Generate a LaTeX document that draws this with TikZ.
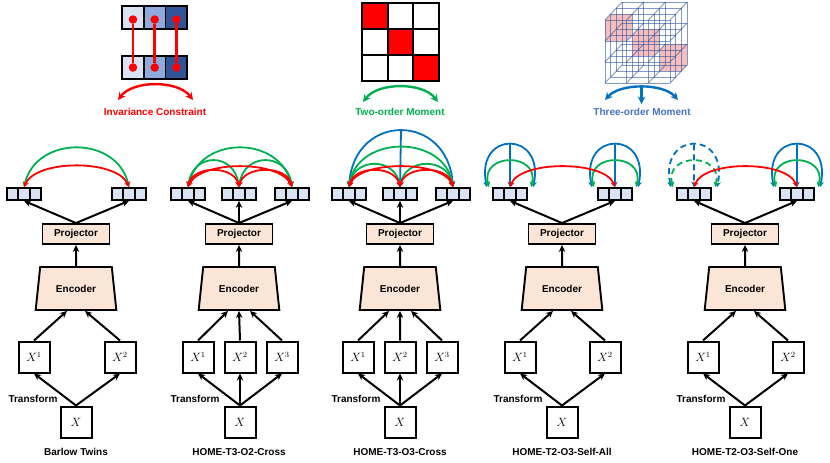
\documentclass[tikz,border=0pt]{standalone}
\usepackage{fontspec}
\setmainfont{Liberation Sans}
\usepackage{xcolor}
\usepackage{tikz}
\usetikzlibrary{positioning,arrows.meta,shapes.geometric}

\definecolor{peach}{RGB}{251,229,214}
\definecolor{cellblue}{RGB}{218,227,243}
\definecolor{midblue}{RGB}{143,170,220}
\definecolor{darkblue}{RGB}{47,85,151}
\definecolor{invred}{RGB}{255,0,0}
\definecolor{momgreen}{RGB}{0,176,80}
\definecolor{momblue}{RGB}{0,112,192}
\definecolor{textblue}{RGB}{68,114,196}
\definecolor{cubepink}{RGB}{235,110,110}

\begin{document}
\begin{tikzpicture}[
  x=1pt, y=-1pt,
  font=\fontsize{10}{12}\selectfont\bfseries,
  vec/.style={draw, line width=1.7pt, fill=cellblue, minimum width=34.5pt, minimum height=12pt, inner sep=0pt,
    path picture={\draw[line width=1.7pt]
      ([xshift=-5.75pt]path picture bounding box.north) -- ([xshift=-5.75pt]path picture bounding box.south)
      ([xshift=5.75pt]path picture bounding box.north) -- ([xshift=5.75pt]path picture bounding box.south);}},
  xbox/.style={draw, line width=2pt, minimum size=31pt, inner sep=0pt, font=\large},
  proj/.style={draw, line width=1.9pt, fill=peach, minimum width=67pt, minimum height=20pt, inner sep=0pt},
  enc/.style={trapezium, trapezium stretches=true, trapezium angle=71, draw, line width=1.9pt,
    fill=peach, minimum width=81pt, minimum height=43pt, inner sep=0pt},
  flow/.style={line width=2pt, -{Stealth[length=7pt,width=6.5pt]}},
  bothends/.style={{Stealth[length=5.5pt,width=5.5pt]}-{Stealth[length=5.5pt,width=5.5pt]}},
  inv/.style={invred, line width=1.8pt, bothends},
  two/.style={momgreen, line width=1.8pt, bothends},
  three/.style={momblue, line width=1.8pt, bothends},
  down/.style={momblue, line width=1.8pt, -{Stealth[length=5.5pt,width=5.5pt]}},
  legarc/.style={line width=2.4pt, {Stealth[length=7.5pt,width=7.5pt]}-{Stealth[length=7.5pt,width=7.5pt]}},
  legcell/.style={draw, line width=1.8pt, minimum width=21.7pt, minimum height=23pt, inner sep=0pt},
  dot/.style={circle, fill=invred, minimum size=8.5pt, inner sep=0pt},
  loopdash/.style={dash pattern=on 6pt off 4pt}
]
\useasboundingbox (0,0) rectangle (830,463);

% Legend: invariance constraint
\node[legcell, fill=cellblue] (t1) at (133,17.5) {};
\node[legcell, fill=midblue]  (t2) at (154.7,17.5) {};
\node[legcell, fill=darkblue] (t3) at (176.4,17.5) {};
\node[legcell, fill=cellblue] (b1) at (133,67.5) {};
\node[legcell, fill=midblue]  (b2) at (154.7,67.5) {};
\node[legcell, fill=darkblue] (b3) at (176.4,67.5) {};
\foreach \i in {1,2,3} {
  \node[dot] (dt\i) at ([yshift=-2pt]t\i.center) {};
  \node[dot] (db\i) at (b\i) {};
  \draw[invred, line width=2.8pt] (dt\i) -- (db\i);
}
\coordinate (inv1) at (118,100);
\coordinate (inv2) at (193,100);
\draw[legarc, invred] (inv1) .. controls +(15,-20) and +(-15,-20) .. (inv2);
\node[text=invred] (invlbl) at (155,112) {Invariance Constraint};

% Legend: two-order moment
\foreach \i in {0,1,2}
  \fill[invred] ({362+25.67*\i},{3+26*\i}) rectangle ++(25.67,26);
\foreach \k in {0,...,3} {
  \draw[line width=2.2pt, line cap=rect] ({362+25.67*\k},3) -- ({362+25.67*\k},81);
  \draw[line width=2.2pt, line cap=rect] (362,{3+26*\k}) -- (439,{3+26*\k});
}
\coordinate (two1) at (363,102);
\coordinate (two2) at (438,102);
\draw[legarc, momgreen] (two1) .. controls +(15,-20) and +(-15,-20) .. (two2);
\node[text=momgreen] (twolbl) at (400,112) {Two-order Moment};

% Legend: three-order moment (3x3x3 tensor)
\foreach \d in {0,1,2} {
  \fill[cubepink, opacity=.45]
    ({605+21.7*\d+5.7*\d},{20+21*\d-6*\d}) -- ++(21.7,0) -- ++(0,21) -- ++(-21.7,0) -- cycle
    ({605+21.7*\d+5.7*\d},{20+21*\d-6*\d}) -- ++(5.7,-6) -- ++(21.7,0) -- ++(-5.7,6) -- cycle
    ({605+21.7*(\d+1)+5.7*\d},{20+21*\d-6*\d}) -- ++(5.7,-6) -- ++(0,21) -- ++(-5.7,6) -- cycle;
}
\foreach \k in {0,...,3}
  \foreach \i in {0,...,3} {
    \draw[darkblue, opacity=.6, line width=.9pt] ({605+21.7*\i+5.7*\k},{20-6*\k}) -- ++(0,63);
    \draw[darkblue, opacity=.6, line width=.9pt] ({605+5.7*\k},{20+21*\i-6*\k}) -- ++(65.1,0);
    \draw[darkblue, opacity=.6, line width=.9pt] ({605+21.7*\k},{20+21*\i}) -- ++(17.1,-18);
  }
\coordinate (thr1) at (605,100);
\coordinate (thr2) at (678,100);
\draw[legarc, momblue] (thr1) .. controls +(15,-17) and +(-15,-17) .. (thr2) coordinate[pos=0.5] (thrtop);
\coordinate (thr3) at (641.5,104);
\draw[momblue, line width=2.4pt, -{Stealth[length=7.5pt,width=7.5pt]}] (thrtop) -- (thr3);
\node[text=textblue] (thrlbl) at (642,112) {Three-order Moment};

% Barlow Twins
\node[xbox] (x1) at (76,422) {$X$};
\node[xbox] (x1a) at (34,357) {$X^1$};
\node[xbox] (x1b) at (120,357) {$X^2$};
\node (tr1) at (33,399) {Transform};
\node[enc] (enc1) at (76,288.5) {Encoder};
\node[proj] (proj1) at (76,234) {Projector};
\node[vec] (v1a) at (24,194) {};
\node[vec] (v1b) at (129,194) {};
\node (name1) at (76,452) {Barlow Twins};
\draw[flow] (x1.north) -- (x1a.south);
\draw[flow] (x1.north) -- (x1b.south);
\draw[flow] (x1a.north) -- ([xshift=-9pt]enc1.south);
\draw[flow] (x1b.north) -- ([xshift=9pt]enc1.south);
\draw[flow] (enc1.north) -- (proj1.south);
\draw[flow] (proj1.north) -- (v1a.south);
\draw[flow] (proj1.north) -- (v1b.south);
\draw[two] (v1a.north) .. controls +(12,-52) and +(-12,-52) .. (v1b.north);
\draw[inv] (v1a.north) .. controls +(12,-28) and +(-12,-28) .. (v1b.north);

% HOME-T3-O2-Cross
\node[xbox] (x2) at (240,422) {$X$};
\node[xbox] (x2a) at (198,357) {$X^1$};
\node[xbox] (x2b) at (240,357) {$X^2$};
\node[xbox] (x2c) at (282,357) {$X^3$};
\node (tr2) at (195,399) {Transform};
\node[enc] (enc2) at (239,288.5) {Encoder};
\node[proj] (proj2) at (239,234) {Projector};
\node[vec] (v2a) at (188,194) {};
\node[vec] (v2b) at (239,194) {};
\node[vec] (v2c) at (292,194) {};
\node (name2) at (239,452) {HOME-T3-O2-Cross};
\draw[flow] (x2.north) -- (x2a.south);
\draw[flow] (x2.north) -- (x2b.south);
\draw[flow] (x2.north) -- (x2c.south);
\draw[flow] (x2a.north) -- ([xshift=-11pt]enc2.south);
\draw[flow] (x2b.north) -- (enc2.south);
\draw[flow] (x2c.north) -- ([xshift=11pt]enc2.south);
\draw[flow] (enc2.north) -- (proj2.south);
\draw[flow] (proj2.north) -- (v2a.south);
\draw[flow] (proj2.north) -- (v2b.south);
\draw[flow] (proj2.north) -- (v2c.south);
\draw[two] (v2a.north) .. controls +(12,-52) and +(-12,-52) .. (v2c.north);
\draw[two] (v2a.north) .. controls +(5,-35) and +(-5,-35) .. (v2b.north);
\draw[two] (v2b.north) .. controls +(5,-35) and +(-5,-35) .. (v2c.north);
\draw[inv] (v2a.north) .. controls +(12,-27) and +(-12,-27) .. (v2c.north);
\draw[inv] (v2a.north) .. controls +(5,-22) and +(-5,-22) .. (v2b.north);
\draw[inv] (v2b.north) .. controls +(5,-22) and +(-5,-22) .. (v2c.north);

% HOME-T3-O3-Cross
\node[xbox] (x3) at (400,422) {$X$};
\node[xbox] (x3a) at (358,357) {$X^1$};
\node[xbox] (x3b) at (400,357) {$X^2$};
\node[xbox] (x3c) at (442,357) {$X^3$};
\node (tr3) at (356,399) {Transform};
\node[enc] (enc3) at (400,288.5) {Encoder};
\node[proj] (proj3) at (400,234) {Projector};
\node[vec] (v3a) at (349,194) {};
\node[vec] (v3b) at (400,194) {};
\node[vec] (v3c) at (453,194) {};
\node (name3) at (400,452) {HOME-T3-O3-Cross};
\draw[flow] (x3.north) -- (x3a.south);
\draw[flow] (x3.north) -- (x3b.south);
\draw[flow] (x3.north) -- (x3c.south);
\draw[flow] (x3a.north) -- ([xshift=-11pt]enc3.south);
\draw[flow] (x3b.north) -- (enc3.south);
\draw[flow] (x3c.north) -- ([xshift=11pt]enc3.south);
\draw[flow] (enc3.north) -- (proj3.south);
\draw[flow] (proj3.north) -- (v3a.south);
\draw[flow] (proj3.north) -- (v3b.south);
\draw[flow] (proj3.north) -- (v3c.south);
\draw[three] (v3a.north) .. controls +(5,-75) and +(-5,-75) .. (v3c.north) coordinate[pos=0.5] (top3);
\draw[down] (top3) -- (v3b.north);
\draw[two] (v3a.north) .. controls +(8,-53) and +(-8,-53) .. (v3c.north);
\draw[two] (v3a.north) .. controls +(5,-30) and +(-5,-30) .. (v3b.north);
\draw[two] (v3b.north) .. controls +(5,-30) and +(-5,-30) .. (v3c.north);
\draw[inv] (v3a.north) .. controls +(10,-27) and +(-10,-27) .. (v3c.north);
\draw[inv] (v3a.north) .. controls +(5,-22) and +(-5,-22) .. (v3b.north);
\draw[inv] (v3b.north) .. controls +(5,-22) and +(-5,-22) .. (v3c.north);

% HOME-T2-O3-Self-All
\node[xbox] (x4) at (562,422) {$X$};
\node[xbox] (x4a) at (520,357) {$X^1$};
\node[xbox] (x4b) at (605,357) {$X^2$};
\node (tr4) at (518,399) {Transform};
\node[enc] (enc4) at (562,288.5) {Encoder};
\node[proj] (proj4) at (562,234) {Projector};
\node[vec] (v4a) at (510,194) {};
\node[vec] (v4b) at (615,194) {};
\node (name4) at (562,452) {HOME-T2-O3-Self-All};
\draw[flow] (x4.north) -- (x4a.south);
\draw[flow] (x4.north) -- (x4b.south);
\draw[flow] (x4a.north) -- ([xshift=-9pt]enc4.south);
\draw[flow] (x4b.north) -- ([xshift=9pt]enc4.south);
\draw[flow] (enc4.north) -- (proj4.south);
\draw[flow] (proj4.north) -- (v4a.south);
\draw[flow] (proj4.north) -- (v4b.south);
\draw[three] ([xshift=-5pt]v4a.north west) .. controls +(-12,-57) and +(12,-57) .. ([xshift=5pt]v4a.north east) coordinate[pos=0.5] (top4a);
\draw[down] (top4a) -- (v4a.north);
\draw[two] ([xshift=-3pt]v4a.north west) .. controls +(-9,-35) and +(9,-35) .. ([xshift=3pt]v4a.north east);
\draw[three] ([xshift=-5pt]v4b.north west) .. controls +(-12,-57) and +(12,-57) .. ([xshift=5pt]v4b.north east) coordinate[pos=0.5] (top4b);
\draw[down] (top4b) -- (v4b.north);
\draw[two] ([xshift=-3pt]v4b.north west) .. controls +(-9,-35) and +(9,-35) .. ([xshift=3pt]v4b.north east);
\draw[inv] (v4a.north) .. controls +(10,-27) and +(-10,-27) .. (v4b.north);

% HOME-T2-O3-Self-One
\node[xbox] (x5) at (745,422) {$X$};
\node[xbox] (x5a) at (703,357) {$X^1$};
\node[xbox] (x5b) at (788,357) {$X^2$};
\node (tr5) at (701,399) {Transform};
\node[enc] (enc5) at (745,288.5) {Encoder};
\node[proj] (proj5) at (745,234) {Projector};
\node[vec] (v5a) at (694,194) {};
\node[vec] (v5b) at (797,194) {};
\node (name5) at (745,452) {HOME-T2-O3-Self-One};
\draw[flow] (x5.north) -- (x5a.south);
\draw[flow] (x5.north) -- (x5b.south);
\draw[flow] (x5a.north) -- ([xshift=-9pt]enc5.south);
\draw[flow] (x5b.north) -- ([xshift=9pt]enc5.south);
\draw[flow] (enc5.north) -- (proj5.south);
\draw[flow] (proj5.north) -- (v5a.south);
\draw[flow] (proj5.north) -- (v5b.south);
\draw[three, loopdash] ([xshift=-5pt]v5a.north west) .. controls +(-12,-57) and +(12,-57) .. ([xshift=5pt]v5a.north east) coordinate[pos=0.5] (top5a);
\draw[down, loopdash] (top5a) -- (v5a.north);
\draw[two, loopdash] ([xshift=-3pt]v5a.north west) .. controls +(-9,-35) and +(9,-35) .. ([xshift=3pt]v5a.north east);
\draw[three] ([xshift=-5pt]v5b.north west) .. controls +(-12,-57) and +(12,-57) .. ([xshift=5pt]v5b.north east) coordinate[pos=0.5] (top5b);
\draw[down] (top5b) -- (v5b.north);
\draw[two] ([xshift=-3pt]v5b.north west) .. controls +(-9,-35) and +(9,-35) .. ([xshift=3pt]v5b.north east);
\draw[inv] (v5a.north) .. controls +(10,-27) and +(-10,-27) .. (v5b.north);

\end{tikzpicture}
\end{document}
